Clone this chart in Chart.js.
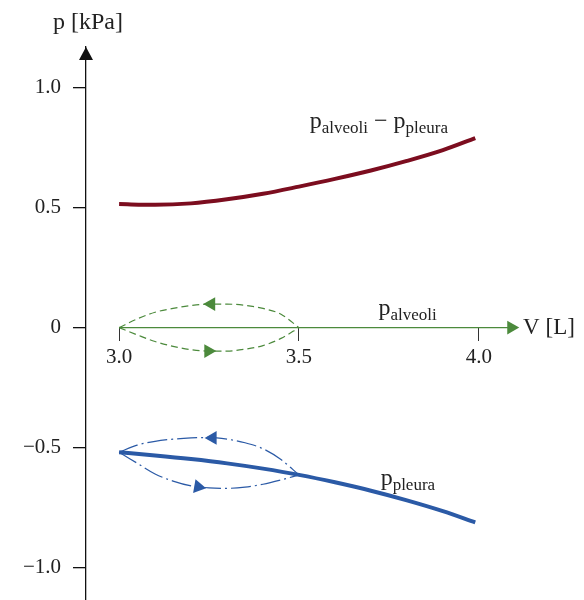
<!DOCTYPE html>
<html>
<head>
<meta charset="utf-8">
<script src="https://cdn.jsdelivr.net/npm/chart.js@4.4.0/dist/chart.umd.min.js"></script>
<style>
  html, body { margin: 0; padding: 0; background: #fff; overflow: hidden; }
  #wrap { width: 584px; height: 600px; overflow: hidden; }
</style>
</head>
<body>
<div id="wrap"><canvas id="pvChart" width="584" height="610"></canvas></div>
<script>
// Volumen (L) fuer die beiden Druckkurven
var volume = [3.0, 3.1, 3.2, 3.3, 3.4, 3.5, 3.6, 3.7, 3.8, 3.9, 3.99];
var pTranspulm = [0.515, 0.512, 0.518, 0.535, 0.558, 0.588, 0.62, 0.655, 0.695, 0.74, 0.79];
var pPleura = [-0.52, -0.533, -0.548, -0.566, -0.588, -0.614, -0.645, -0.68, -0.72, -0.765, -0.812];

// Atemschleifen zwischen 3.0 und 3.5 L
var loopVolume = [3.0, 3.05, 3.1, 3.15, 3.2, 3.25, 3.3, 3.35, 3.4, 3.45, 3.5];
var alvExp = [0, 0.036, 0.064, 0.08, 0.092, 0.098, 0.098, 0.093, 0.08, 0.056, 0];
var alvInsp = [0, -0.03, -0.058, -0.078, -0.092, -0.098, -0.098, -0.09, -0.075, -0.045, 0];
var pleuraExp = [-0.52, -0.49, -0.474, -0.465, -0.46, -0.458, -0.465, -0.48, -0.505, -0.55, -0.614];
var pleuraInsp = [-0.52, -0.565, -0.61, -0.64, -0.66, -0.668, -0.67, -0.665, -0.653, -0.635, -0.614];

// Achsen
var xTicks = [3.0, 3.5, 4.0];
var xTickLabels = ['3.0', '3.5', '4.0'];
var yTicks = [1.0, 0.5, 0, -0.5, -1.0];
var yTickLabels = ['1.0', '0.5', '0', '\u22120.5', '\u22121.0'];

var RED = '#7c0d1f';
var BLUE = '#2b5aa6';
var GREEN = '#4c8a3c';
var FONT = '"Liberation Serif", "DejaVu Serif", serif';

function pts(xs, ys) {
    return xs.map(function(x, i) { return { x: x, y: ys[i] }; });
}

function line(data, color, width, dash) {
    return {
        data: data,
        showLine: true,
        borderColor: color,
        borderWidth: width,
        borderDash: dash || [],
        pointRadius: 0,
        cubicInterpolationMode: 'monotone',
        tension: 0.4,
        fill: false
    };
}

function arrows(data, color, rot, r) {
    return {
        data: data,
        showLine: false,
        pointStyle: 'triangle',
        pointRadius: r,
        rotation: rot,
        backgroundColor: color,
        borderColor: color,
        borderWidth: 0
    };
}

// Text mit tiefgestellten Teilen
function drawSub(ctx, parts, x, y) {
    parts.forEach(function(p) {
        ctx.font = (p[1] ? '17px ' : '24px ') + FONT;
        ctx.fillText(p[0], x, y + (p[1] ? 5 : 0));
        x += ctx.measureText(p[0]).width;
    });
}

var labelsPlugin = {
    id: 'labelsPlugin',
    afterDraw: function(chart) {
        var ctx = chart.ctx;
        var xs = chart.scales.x, ys = chart.scales.y;
        var area = chart.chartArea;
        ctx.save();

        // Pfeil der p-Achse
        ctx.fillStyle = '#111';
        ctx.beginPath();
        ctx.moveTo(area.left, area.top);
        ctx.lineTo(area.left - 7, area.top + 13);
        ctx.lineTo(area.left + 7, area.top + 13);
        ctx.closePath();
        ctx.fill();

        ctx.fillStyle = '#222';
        ctx.textBaseline = 'alphabetic';
        ctx.textAlign = 'left';
        ctx.font = '24px ' + FONT;
        ctx.fillText('p [kPa]', xs.getPixelForValue(2.816), ys.getPixelForValue(1.247));

        ctx.font = '23px ' + FONT;
        ctx.textBaseline = 'middle';
        ctx.fillText('V [L]', xs.getPixelForValue(4.123), ys.getPixelForValue(0));

        ctx.textBaseline = 'alphabetic';
        drawSub(ctx, [['p', 0], ['alveoli', 1], [' \u2212 ', 0], ['p', 0], ['pleura', 1]],
            xs.getPixelForValue(3.53), ys.getPixelForValue(0.833));
        drawSub(ctx, [['p', 0], ['alveoli', 1]],
            xs.getPixelForValue(3.721), ys.getPixelForValue(0.054));
        drawSub(ctx, [['p', 0], ['pleura', 1]],
            xs.getPixelForValue(3.727), ys.getPixelForValue(-0.657));
        ctx.restore();
    }
};

var ctx = document.getElementById('pvChart').getContext('2d');
var pvChart = new Chart(ctx, {
    type: 'scatter',
    data: {
        datasets: [
            line([{ x: 3.0, y: 0 }, { x: 4.09, y: 0 }], GREEN, 1.4),
            arrows([{ x: 4.09, y: 0 }], GREEN, 90, 8),
            line(pts(loopVolume, alvExp), GREEN, 1.2, [7, 4]),
            line(pts(loopVolume, alvInsp), GREEN, 1.2, [7, 4]),
            arrows([{ x: 3.256, y: 0.098 }], GREEN, 270, 8),
            arrows([{ x: 3.248, y: -0.098 }], GREEN, 90, 8),
            line(pts(loopVolume, pleuraExp), BLUE, 1.2, [20, 4, 2, 4]),
            line(pts(loopVolume, pleuraInsp), BLUE, 1.2, [20, 4, 2, 4]),
            arrows([{ x: 3.26, y: -0.46 }], BLUE, 270, 8),
            arrows([{ x: 3.22, y: -0.664 }], BLUE, 100, 8),
            line(pts(volume, pTranspulm), RED, 4),
            line(pts(volume, pPleura), BLUE, 4)
        ]
    },
    plugins: [labelsPlugin],
    options: {
        responsive: false,
        animation: false,
        layout: { padding: { top: 47, right: 0, bottom: 0, left: 0 } },
        plugins: { legend: { display: false }, tooltip: { enabled: false } },
        scales: {
            x: {
                type: 'linear',
                min: 2.908,
                max: 4.27,
                position: { y: 0 },
                border: { display: false },
                grid: { drawOnChartArea: false, drawTicks: true, tickLength: 13, color: '#333', lineWidth: 1 },
                afterBuildTicks: function(s) { s.ticks = xTicks.map(function(v) { return { value: v }; }); },
                afterFit: function(s) { s.paddingLeft = 0; s.paddingRight = 0; s.paddingTop = 0; s.paddingBottom = 0; },
                ticks: {
                    padding: 4,
                    color: '#222',
                    font: { family: FONT, size: 21 },
                    callback: function(v, i) { return xTickLabels[i]; }
                }
            },
            y: {
                type: 'linear',
                min: -1.144,
                max: 1.17,
                position: 'left',
                border: { display: true, color: '#111', width: 1.3 },
                grid: { drawOnChartArea: false, drawTicks: true, tickLength: 13, color: '#111', lineWidth: 1.3 },
                afterBuildTicks: function(s) { s.ticks = yTicks.map(function(v) { return { value: v }; }); },
                afterFit: function(s) { s.width = 86; s.paddingTop = 0; s.paddingBottom = 0; },
                ticks: {
                    padding: 12,
                    color: '#222',
                    font: { family: FONT, size: 21 },
                    callback: function(v, i) { return yTickLabels[i]; }
                }
            }
        }
    }
});
</script>
</body>
</html>
